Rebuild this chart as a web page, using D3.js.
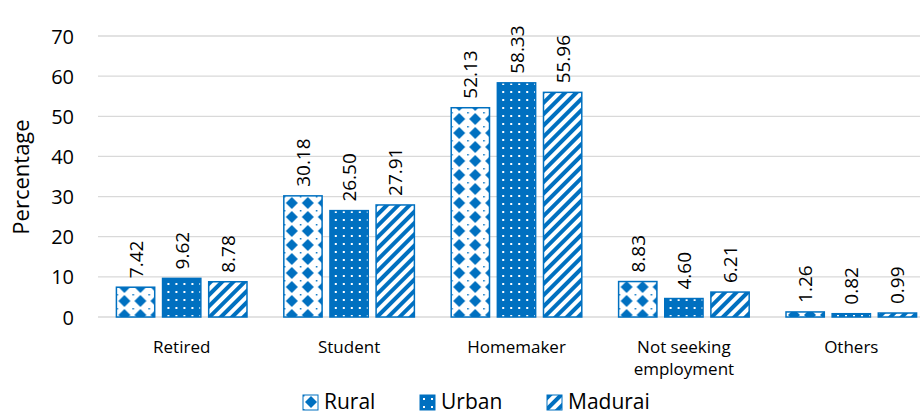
<!DOCTYPE html>
<html>
<head>
<meta charset="utf-8">
<script src="https://cdn.jsdelivr.net/npm/d3@7"></script>
<style>
  body { margin: 0; background: #fff; }
  svg { font-family: "Open Sans", Lato, sans-serif; }
</style>
</head>
<body>
<svg width="920" height="414"></svg>
<script>
var categories = ["Retired", "Student", "Homemaker", "Not seeking employment", "Others"];
var series = ["Rural", "Urban", "Madurai"];
var rural = [7.42, 30.18, 52.13, 8.83, 1.26];
var urban = [9.62, 26.50, 58.33, 4.60, 0.82];
var madurai = [8.78, 27.91, 55.96, 6.21, 0.99];
var yTicks = [0, 10, 20, 30, 40, 50, 60, 70];

var blue = "#0070c0";
var values = { Rural: rural, Urban: urban, Madurai: madurai };

var svg = d3.select("svg");

// patterns, one per series
var defs = svg.append("defs");

var pRural = defs.append("pattern").attr("id", "pat-Rural")
    .attr("patternUnits", "userSpaceOnUse").attr("width", 16).attr("height", 14);
pRural.append("rect").attr("width", 16).attr("height", 14).attr("fill", "#fff");
pRural.append("path").attr("d", "M8 1 L14 7 L8 13 L2 7 Z").attr("fill", blue);
pRural.append("rect").attr("x", 0).attr("y", 0).attr("width", 1.5).attr("height", 1.5).attr("fill", blue);

var pUrban = defs.append("pattern").attr("id", "pat-Urban")
    .attr("patternUnits", "userSpaceOnUse").attr("width", 8).attr("height", 8);
pUrban.append("rect").attr("width", 8).attr("height", 8).attr("fill", blue);
pUrban.append("rect").attr("x", 3).attr("y", 3).attr("width", 2).attr("height", 2).attr("fill", "#fff");

var pMad = defs.append("pattern").attr("id", "pat-Madurai")
    .attr("patternUnits", "userSpaceOnUse").attr("width", 8).attr("height", 8)
    .attr("patternTransform", "rotate(45)");
pMad.append("rect").attr("width", 8).attr("height", 8).attr("fill", "#fff");
pMad.append("rect").attr("x", 0).attr("y", 0).attr("width", 4).attr("height", 8).attr("fill", blue);

var x0 = d3.scaleBand().domain(categories).range([98, 935]).paddingInner(0.22).paddingOuter(0.11);
var x1 = d3.scaleBand().domain(series).range([0, x0.bandwidth()]).paddingInner(0.17);
var y = d3.scaleLinear().domain([0, 70]).range([317, 36]);

// gridlines
svg.append("g").selectAll("line").data(yTicks).enter().append("line")
    .attr("x1", 98).attr("x2", 920)
    .attr("y1", function(d) { return y(d); })
    .attr("y2", function(d) { return y(d); })
    .attr("stroke", "#d9d9d9").attr("stroke-width", 1.3);

// y axis
var yAxis = svg.append("g").attr("transform", "translate(74,0)")
    .call(d3.axisLeft(y).tickValues(yTicks).tickSize(0).tickPadding(0));
yAxis.select(".domain").remove();
yAxis.selectAll("text").attr("font-size", 20).attr("fill", "#000")
    .attr("font-family", "'Open Sans', sans-serif").attr("dy", "0.35em");

svg.append("text")
    .attr("transform", "translate(29,177) rotate(-90)")
    .attr("text-anchor", "middle")
    .attr("font-size", 22).attr("fill", "#000")
    .text("Percentage");

// bars
var groups = svg.append("g").selectAll("g").data(categories).enter().append("g")
    .attr("transform", function(d) { return "translate(" + x0(d) + ",0)"; });

groups.each(function(cat, i) {
  var g = d3.select(this);
  series.forEach(function(s) {
    var v = values[s][i];
    g.append("rect")
      .attr("x", x1(s))
      .attr("y", y(v))
      .attr("width", x1.bandwidth())
      .attr("height", y(0) - y(v))
      .attr("fill", "url(#pat-" + s + ")")
      .attr("stroke", blue).attr("stroke-width", 1.5);
    var cx = x1(s) + x1.bandwidth() / 2;
    g.append("text")
      .attr("transform", "translate(" + (cx + 7) + "," + (y(v) - 9) + ") rotate(-90)")
      .attr("font-size", 19).attr("fill", "#000")
      .text(v.toFixed(2));
  });
});

// category labels (two lines for the long one)
var xLabels = svg.append("g");
categories.forEach(function(d) {
  var lines = d == "Not seeking employment" ? ["Not seeking", "employment"] : [d];
  lines.forEach(function(l, k) {
    xLabels.append("text")
      .attr("x", x0(d) + x0.bandwidth() / 2)
      .attr("y", 353 + k * 22)
      .attr("text-anchor", "middle")
      .attr("font-size", 17).attr("fill", "#000")
      .text(l);
  });
});

// legend
var legendX = [303, 420, 547];
var legend = svg.append("g").selectAll("g").data(series).enter().append("g")
    .attr("transform", function(d, i) { return "translate(" + legendX[i] + ",395)"; });
legend.append("rect").attr("width", 15).attr("height", 15)
    .attr("fill", function(d) { return "url(#pat-" + d + ")"; })
    .attr("stroke", blue).attr("stroke-width", 1);
legend.append("text").attr("x", 21).attr("y", 14)
    .attr("font-size", 21).attr("fill", "#000")
    .text(function(d) { return d; });
</script>
</body>
</html>
